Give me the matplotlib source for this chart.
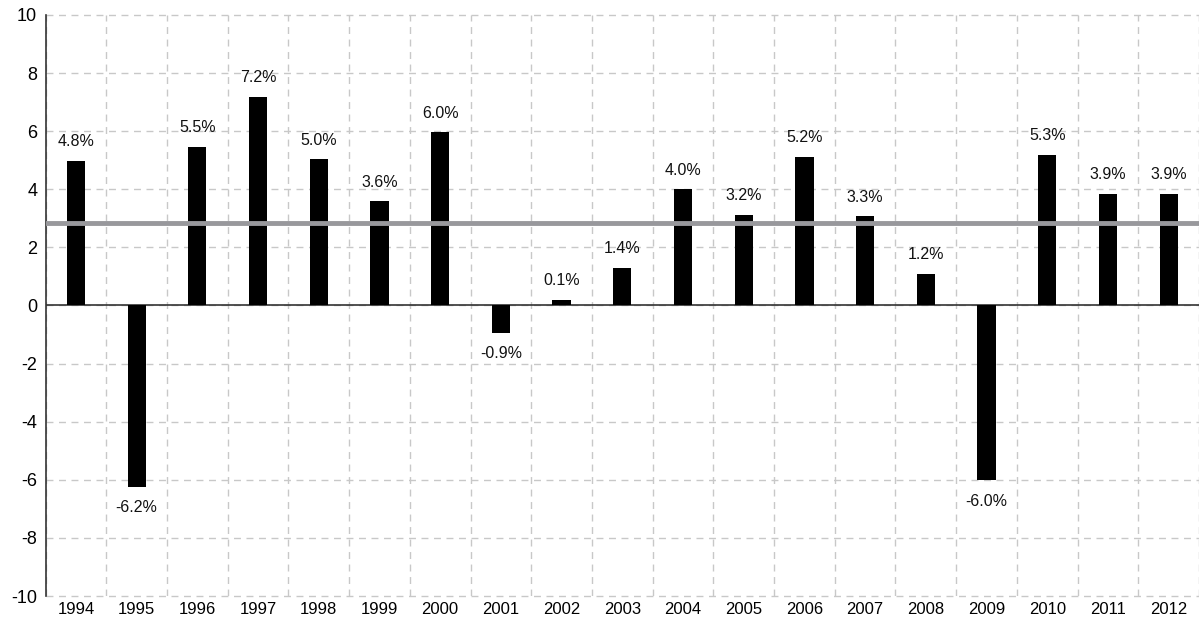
import matplotlib.pyplot as plt
from matplotlib.ticker import MultipleLocator

plt.rcParams['font.family'] = ['Liberation Sans', 'DejaVu Sans']
plt.rcParams['axes.unicode_minus'] = False

# ============================================================
# DATA
# ============================================================
years = ["1994", "1995", "1996", "1997", "1998", "1999", "2000", "2001", "2002", "2003",
         "2004", "2005", "2006", "2007", "2008", "2009", "2010", "2011", "2012"]
values = [4.98, -6.24, 5.46, 7.19, 5.04, 3.58, 5.96, -0.93, 0.2, 1.29,
          4.0, 3.12, 5.11, 3.07, 1.10, -6.02, 5.18, 3.84, 3.84]
labels = ["4.8%", "-6.2%", "5.5%", "7.2%", "5.0%", "3.6%", "6.0%", "-0.9%", "0.1%", "1.4%",
          "4.0%", "3.2%", "5.2%", "3.3%", "1.2%", "-6.0%", "5.3%", "3.9%", "3.9%"]
average = 2.85

# ============================================================
# FIGURE
# ============================================================
fig = plt.figure(figsize=(11.99, 6.23), dpi=100)
ax = fig.add_axes([0.038, 0.0433, 0.962, 0.9327])

x = list(range(len(years)))
ax.bar(x, values, width=0.3, color="black", zorder=3)

# average line
ax.axhline(average, color="#98989c", linewidth=3.5, zorder=4)
# zero line
ax.axhline(0, color="#333333", linewidth=1.2, zorder=2)

for xi, v, lab in zip(x, values, labels):
    off = 13.7 if v >= 0 else -15
    ax.annotate(lab, (xi, v), xytext=(0, off), textcoords="offset points",
                ha="center", va="center", fontsize=11.5, color="#111111")

ax.set_xlim(-0.5, len(years) - 0.5)
ax.set_ylim(-10, 10)
ax.yaxis.set_major_locator(MultipleLocator(2))
ax.set_xticks(x)
ax.set_xticklabels(years, fontsize=12)
ax.set_xticks([i + 0.5 for i in range(-1, len(years))], minor=True)
ax.tick_params(axis="y", labelsize=13, length=0, pad=6)
ax.tick_params(axis="x", which="both", length=0, pad=4)

ax.grid(True, axis="y", which="major", linestyle=(0, (5, 4)), color="#c8c8c8", linewidth=1, zorder=0)
ax.grid(True, axis="x", which="minor", linestyle=(0, (5, 4)), color="#c8c8c8", linewidth=1, zorder=0)
ax.grid(False, axis="x", which="major")
for gl in ax.get_ygridlines():
    gl.set_clip_on(False)

for side in ["top", "right", "bottom"]:
    ax.spines[side].set_visible(False)
ax.spines["left"].set_color("#333333")
ax.spines["left"].set_linewidth(1.2)

fig.savefig("out.png", dpi=100)
